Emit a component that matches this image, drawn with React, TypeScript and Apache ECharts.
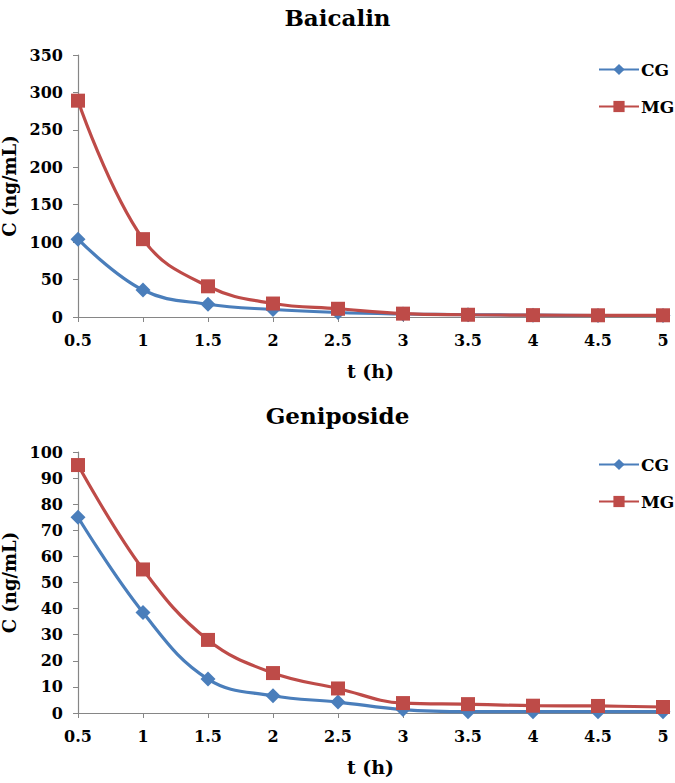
import React, { useEffect, useRef } from "react";
import * as echarts from "echarts";

const times = [0.5, 1, 1.5, 2, 2.5, 3, 3.5, 4, 4.5, 5];
const baicalinCG = [104, 36, 17, 10, 6, 4, 3, 2.5, 2, 2];
const baicalinMG = [289, 104, 41, 18, 11, 4.5, 3, 2.5, 2.3, 2.3];
const geniposideCG = [75, 38.5, 13, 6.6, 4.2, 1.3, 0.5, 0.5, 0.5, 0.5];
const geniposideMG = [95, 55, 28, 15.3, 9.4, 3.8, 3.4, 2.8, 2.7, 2.3];
const seriesNames = ["CG", "MG"];
const titles = ["Baicalin", "Geniposide"];

const FONT = "DejaVu Serif, serif";
const BLUE = "#4A7EBB";
const RED = "#BE4B48";
const AXIS = "#868686";

function pairs(ys: number[]) {
  return times.map((t, i) => [t, ys[i]]);
}

export default function App() {
  const ref = useRef<HTMLDivElement>(null);
  useEffect(() => {
    if (!ref.current) return;
    const chart = echarts.init(ref.current, undefined, { renderer: "svg" });
    const grids = [
      { left: 78, top: 55, width: 585, height: 262, outerBoundsMode: "none", containLabel: false },
      { left: 78, top: 452, width: 585, height: 261, outerBoundsMode: "none", containLabel: false },
    ];
    const yMax = [350, 100];
    const yInt = [50, 10];
    const xAxis = grids.map((_, i) => ({
      type: "value",
      gridIndex: i,
      min: 0.5,
      max: 5,
      interval: 0.5,
      name: "t (h)",
      nameLocation: "middle",
      nameGap: 44,
      nameTextStyle: { fontFamily: FONT, fontWeight: "bold", fontSize: 19, color: "#000" },
      axisLine: { lineStyle: { color: AXIS, width: 1.2 } },
      axisTick: { show: true, length: 5, lineStyle: { color: AXIS } },
      splitLine: { show: false },
      axisLabel: { fontFamily: FONT, fontWeight: "bold", fontSize: 16, color: "#000", margin: 15 },
    }));
    const yAxis = grids.map((_, i) => ({
      type: "value",
      gridIndex: i,
      min: 0,
      max: yMax[i],
      interval: yInt[i],
      name: "C (ng/mL)",
      nameLocation: "middle",
      nameGap: 50,
      nameTextStyle: { fontFamily: FONT, fontWeight: "bold", fontSize: 18, color: "#000" },
      axisLine: { show: true, lineStyle: { color: AXIS, width: 1.2 } },
      axisTick: { show: true, length: 5, lineStyle: { color: AXIS } },
      splitLine: { show: false },
      axisLabel: { fontFamily: FONT, fontWeight: "bold", fontSize: 16, color: "#000", margin: 15 },
    }));
    const data = [
      [baicalinCG, baicalinMG],
      [geniposideCG, geniposideMG],
    ];
    const series: any[] = [];
    data.forEach((pair, gi) => {
      pair.forEach((ys, si) => {
        series.push({
          type: "line",
          name: seriesNames[si],
          xAxisIndex: gi,
          yAxisIndex: gi,
          data: pairs(ys),
          smooth: 0.4,
          symbol: si === 0 ? "diamond" : "rect",
          symbolSize: si === 0 ? 15 : 14,
          color: si === 0 ? BLUE : RED,
          lineStyle: { width: 3.2, color: si === 0 ? BLUE : RED },
          itemStyle: { color: si === 0 ? BLUE : RED },
          z: si === 0 ? 2 : 3,
        });
      });
    });
    const legendBase = {
      orient: "vertical",
      left: 593,
      itemWidth: 40,
      itemHeight: 14,
      itemGap: 20,
      textStyle: { fontFamily: FONT, fontWeight: "bold", fontSize: 17, color: "#000", padding: [0, 0, 0, -3] },
      data: seriesNames,
    };
    chart.setOption({
      animation: false,
      backgroundColor: "#fff",
      textStyle: { fontFamily: FONT },
      title: titles.map((t, i) => ({
        text: t,
        left: "center",
        top: i === 0 ? 1 : 399,
        textStyle: { fontFamily: FONT, fontWeight: "bold", fontSize: 23, color: "#000" },
      })),
      legend: [
        { ...legendBase, top: 56 },
        { ...legendBase, top: 451 },
      ],
      grid: grids,
      xAxis,
      yAxis,
      series,
    } as any);
    return () => chart.dispose();
  }, []);
  return (
    <div
      ref={ref}
      style={{ position: "absolute", left: 0, top: 0, width: 675, height: 783, background: "#fff" }}
    />
  );
}
